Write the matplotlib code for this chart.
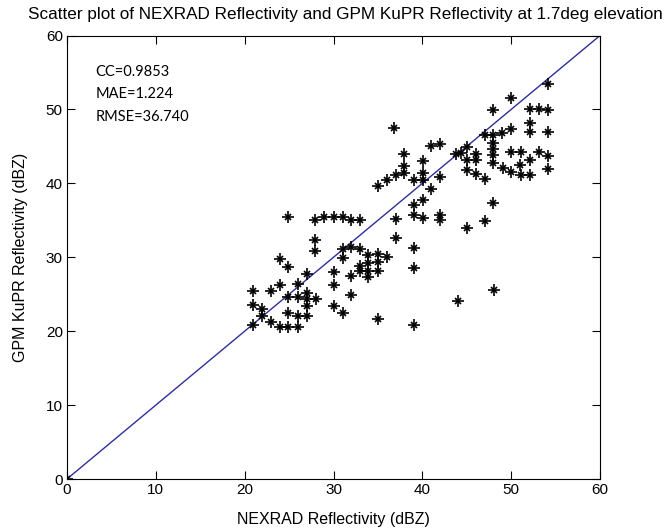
import numpy as np
import matplotlib
matplotlib.use("Agg")
import matplotlib.pyplot as plt

# NEXRAD (x) vs GPM KuPR (y) reflectivity, dBZ
nexrad = [0.0,
          20.9, 23.0, 24.0, 26.0, 20.9, 22.0, 22.0, 23.0, 20.9,
          24.0, 24.9, 26.0, 24.9, 26.0, 27.0, 24.9, 26.0, 27.0, 27.0, 28.0, 27.0,
          24.0, 24.9, 27.0, 24.9,
          27.9, 28.9, 30.1, 31.1, 32.0, 33.0, 27.9, 27.9,
          30.0, 30.0, 30.1, 31.1, 32.0, 32.0,
          31.1, 32.0, 33.0, 31.1, 33.9, 35.0, 36.0, 35.0, 33.9, 33.0, 33.9, 35.0, 33.0, 33.9, 35.0,
          35.0, 36.0, 37.0, 37.9, 37.9, 37.9, 36.8,
          39.1, 40.1, 40.1, 40.1, 41.0, 42.0, 41.0, 42.0,
          37.0, 37.0, 39.1, 40.1, 39.1, 40.1, 42.0, 42.0,
          39.1, 39.1, 39.1, 44.0, 48.1, 45.0, 47.0, 48.0,
          43.8, 44.3, 45.0, 46.0, 45.0, 46.0, 45.0, 46.0, 47.0,
          47.0, 48.0, 49.0, 50.0, 48.0, 50.0, 54.1,
          52.1, 53.1, 54.1, 52.1, 52.1, 54.1,
          48.0, 48.0, 48.0, 48.0, 50.0, 51.1, 53.1, 54.1, 52.1, 51.0,
          49.1, 50.0, 51.1, 52.1, 54.1]
kupr = [0.0,
        25.5, 25.5, 26.3, 26.4, 23.5, 23.0, 22.0, 21.3, 20.8,
        20.5, 20.5, 20.5, 22.5, 22.1, 22.1, 24.6, 24.6, 25.2, 24.3, 24.3, 23.4,
        29.8, 28.7, 27.7, 35.5,
        35.1, 35.4, 35.4, 35.4, 35.1, 35.1, 32.3, 30.8,
        28.0, 26.3, 23.4, 22.5, 27.4, 24.9,
        31.1, 31.4, 31.1, 29.9, 30.3, 30.5, 30.1, 29.4, 29.2, 28.8, 28.1, 28.2, 28.1, 27.3, 21.6,
        39.7, 40.4, 41.1, 41.4, 42.3, 44.0, 47.5,
        40.4, 40.4, 41.4, 43.0, 39.3, 40.8, 45.0, 45.3,
        35.2, 32.6, 37.1, 37.8, 35.7, 35.3, 35.7, 35.0,
        31.2, 28.6, 20.9, 24.1, 25.6, 34.0, 34.9, 37.3,
        44.0, 44.1, 44.9, 44.0, 43.1, 43.1, 41.8, 41.2, 40.6,
        46.6, 46.5, 46.8, 47.3, 49.9, 51.5, 53.5,
        50.0, 50.0, 49.9, 48.2, 47.0, 46.9,
        45.4, 44.7, 43.8, 42.7, 44.2, 44.2, 44.2, 43.7, 43.1, 42.5,
        42.1, 41.5, 41.1, 41.1, 42.0]

stats_lines = ["CC=0.9853", "MAE=1.224", "RMSE=36.740"]
ticks = [0, 10, 20, 30, 40, 50, 60]

plt.rcParams["font.family"] = ["Liberation Sans", "DejaVu Sans"]

fig = plt.figure(figsize=(6.67, 5.30), dpi=100)
ax = fig.add_axes([0.1004, 0.0962, 0.7992, 0.8368])

# 1:1 reference line
ax.plot([0, 60], [0, 60], color="#2e2e9c", lw=1)

# MATLAB-like asterisk: plus + small cross
ax.plot(nexrad, kupr, "k+", ms=9, mew=1.2, ls="none")
ax.plot(nexrad, kupr, "kx", ms=5, mew=1.2, ls="none")

ax.set_xlim(0, 60)
ax.set_ylim(0, 60)
ax.set_xticks(ticks)
ax.set_yticks(ticks)
ax.tick_params(direction="in", top=True, right=True, length=6, labelsize=11, pad=3)
ax.set_xlabel("NEXRAD Reflectivity (dBZ)", fontsize=11.5, labelpad=11)
ax.set_ylabel("GPM KuPR Reflectivity (dBZ)", fontsize=11.5, labelpad=13)

fig.text(0.042, 0.972, "Scatter plot of NEXRAD Reflectivity and GPM KuPR Reflectivity at 1.7deg elevation",
         fontsize=12.3, ha="left", va="center")

for i, s in enumerate(stats_lines):
    ax.text(0.053, 0.917 - i * 0.05, s, transform=ax.transAxes, fontsize=10.5,
            family=["Lato", "DejaVu Sans"], va="center", ha="left")

fig.savefig("out.png", dpi=100)
